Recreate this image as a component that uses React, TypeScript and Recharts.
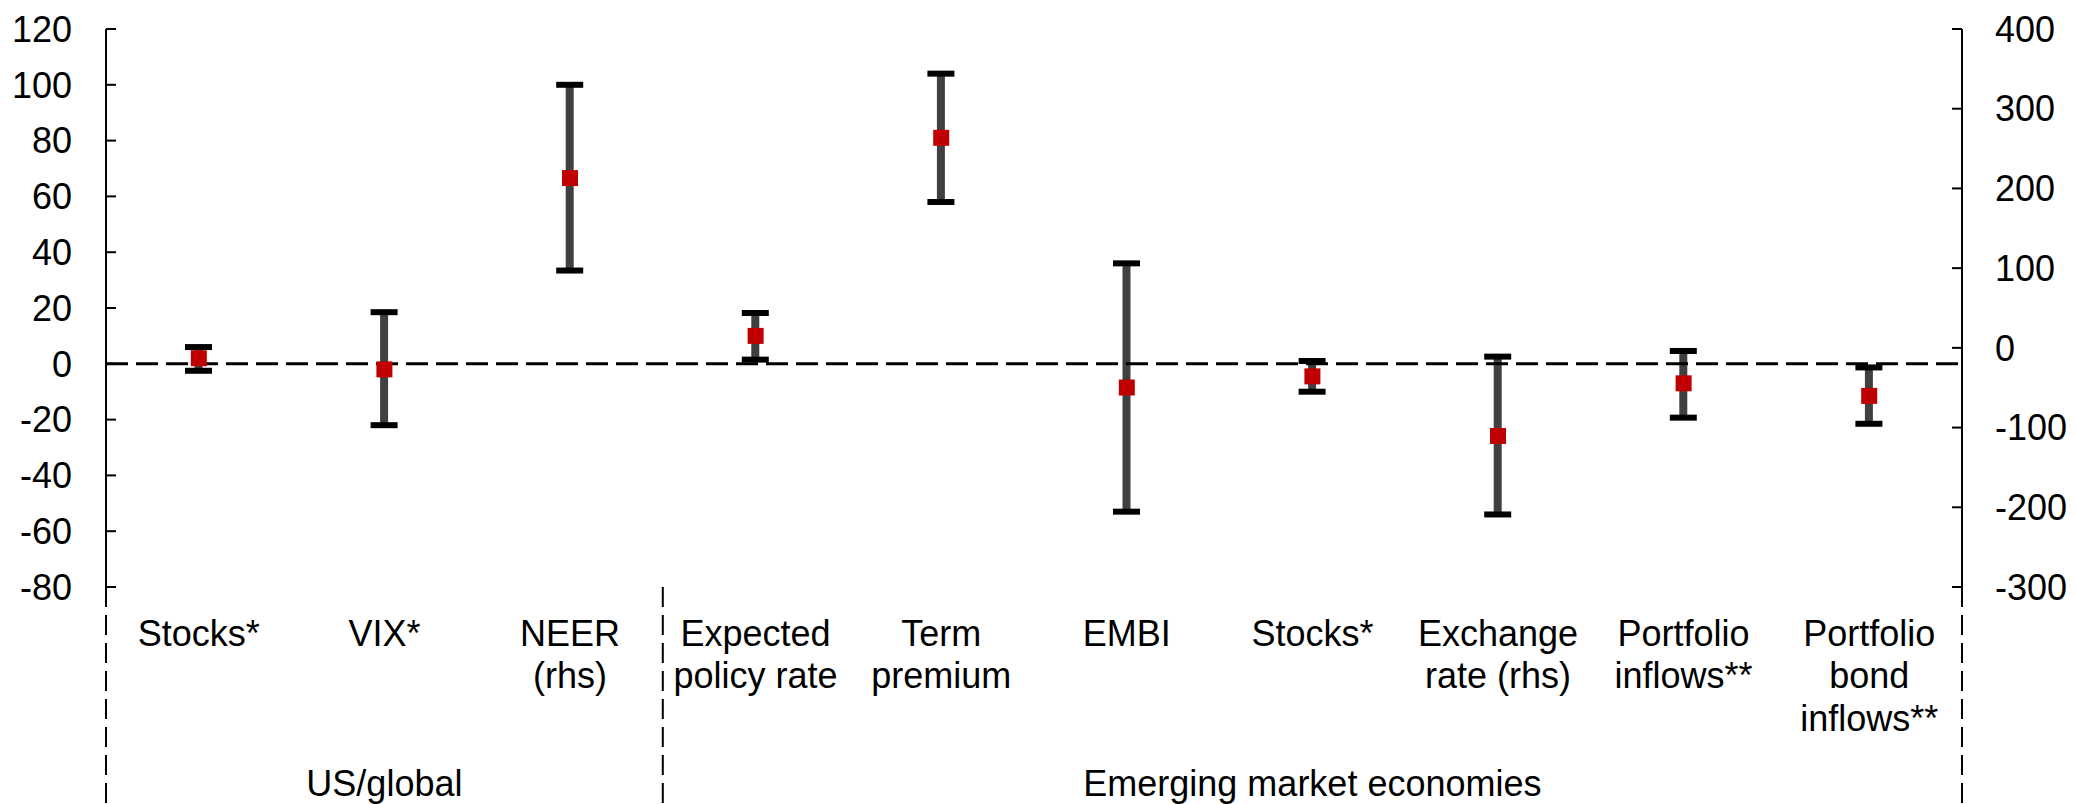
import React from 'react';
import { ComposedChart, XAxis, YAxis, Bar, Line, ReferenceLine } from 'recharts';

// ---- data ----
const categories = [
  'Stocks*',
  'VIX*',
  'NEER\n(rhs)',
  'Expected\npolicy rate',
  'Term\npremium',
  'EMBI',
  'Stocks*',
  'Exchange\nrate (rhs)',
  'Portfolio\ninflows**',
  'Portfolio\nbond\ninflows**',
];
const axisSide = ['l', 'l', 'r', 'l', 'l', 'l', 'l', 'r', 'l', 'l'];
const midValues = [2, -2, 213, 10, 81, -8.5, -4.5, -110.5, -7, -11.5];
const lowValues = [-2.5, -22, 97, 1.5, 58, -53, -10, -209, -19.3, -21.5];
const highValues = [6, 18.5, 330, 18.2, 104, 36, 1, -11, 4.6, -1.3];
const groupLabels = ['US/global', 'Emerging market economies'];
const groupStart = [0, 3];
const groupEnd = [2, 9];
const leftTicks = [-80, -60, -40, -20, 0, 20, 40, 60, 80, 100, 120];
const rightTicks = [-300, -200, -100, 0, 100, 200, 300, 400];

// ---- layout ----
const W = 2059;
const H = 796;
const LEFT_W = 98;
const RIGHT_W = 105;
const TOP = 21;
const XAXIS_H = 217;
const LEFT_MARGIN = 34;
const RIGHT_MARGIN = 33;
const FONT = "'Liberation Sans', Arial, sans-serif";
const FS = 36;
const BAND = (W - LEFT_W - RIGHT_W) / categories.length;

const data = categories.map((c, i) => ({
  name: c,
  midL: axisSide[i] === 'l' ? midValues[i] : null,
  midR: axisSide[i] === 'r' ? midValues[i] : null,
  rangeL: axisSide[i] === 'l' ? [lowValues[i], highValues[i]] : null,
  rangeR: axisSide[i] === 'r' ? [lowValues[i], highValues[i]] : null,
}));

const ErrorShape = (props: any) => {
  const { x, y, width, height, payload, k } = props;
  if (!payload || payload[k] == null) return <g />;
  if (x == null || y == null || !isFinite(height)) return <g />;
  const top = Math.min(y, y + height);
  const bot = Math.max(y, y + height);
  const cx = x + width / 2;
  return (
    <g>
      <line x1={cx} x2={cx} y1={top} y2={bot} stroke="#404040" strokeWidth={8} />
      <line x1={x} x2={x + width} y1={top} y2={top} stroke="#000" strokeWidth={6} />
      <line x1={x} x2={x + width} y1={bot} y2={bot} stroke="#000" strokeWidth={6} />
    </g>
  );
};

const Square = (props: any) => {
  const { cx, cy, value, index } = props;
  if (value == null || cx == null || cy == null || !isFinite(cy)) return <g key={'e' + index} />;
  return <rect key={'s' + index} x={cx - 8} y={cy - 8} width={16} height={16} fill="#C00000" />;
};

const LeftTick = (props: any) => {
  const { x, y, payload } = props;
  const ax = x + LEFT_MARGIN;
  return (
    <g>
      <line x1={ax} x2={ax + 10} y1={y} y2={y} stroke="#000" strokeWidth={2} />
      <text x={x} y={y} dy="0.355em" textAnchor="end" fontSize={FS} fontFamily={FONT} fill="#000">
        {payload.value}
      </text>
    </g>
  );
};

const RightTick = (props: any) => {
  const { x, y, payload } = props;
  const ax = x - RIGHT_MARGIN;
  return (
    <g>
      <line x1={ax} x2={ax - 10} y1={y} y2={y} stroke="#000" strokeWidth={2} />
      <text x={x} y={y} dy="0.355em" textAnchor="start" fontSize={FS} fontFamily={FONT} fill="#000">
        {payload.value}
      </text>
    </g>
  );
};

const XTick = (props: any) => {
  const { x, y, payload } = props;
  const i = payload.index ?? props.index;
  const half = payload.offset > 0 ? payload.offset : BAND / 2;
  const lines = String(payload.value).split('\n');
  const parts: any[] = [];
  lines.forEach((ln, k) => {
    parts.push(
      <text key={'t' + k} x={x} y={y + 59 + k * 42.3} textAnchor="middle" fontSize={FS} fontFamily={FONT} fill="#000">
        {ln}
      </text>
    );
  });
  groupLabels.forEach((g, gi) => {
    const s = groupStart[gi];
    const e = groupEnd[gi];
    if (i === s && gi === 0) {
      parts.push(
        <line key={'ls' + gi} x1={x - half} x2={x - half} y1={y} y2={y + XAXIS_H} stroke="#000" strokeWidth={2} strokeDasharray="20 8" />
      );
    }
    if (i === e) {
      parts.push(
        <line key={'le' + gi} x1={x + half} x2={x + half} y1={y} y2={y + XAXIS_H} stroke="#000" strokeWidth={2} strokeDasharray="20 8" />
      );
    }
    const m = Math.floor((s + e) / 2);
    if (i === m) {
      const gx = x + ((s + e) / 2 - m) * 2 * half;
      parts.push(
        <text key={'g' + gi} x={gx} y={y + 209} textAnchor="middle" fontSize={FS} fontFamily={FONT} fill="#000">
          {g}
        </text>
      );
    }
  });
  return <g>{parts}</g>;
};

export default function App() {
  return (
    <ComposedChart
      width={W}
      height={H}
      data={data}
      margin={{ top: TOP, right: 0, bottom: 0, left: 0 }}
      barGap={-27}
    >
      <XAxis
        dataKey="name"
        height={XAXIS_H}
        axisLine={false}
        tickLine={false}
        tickSize={0}
        tickMargin={0}
        interval={0}
        tick={<XTick />}
      />
      <YAxis
        yAxisId="l"
        orientation="left"
        width={LEFT_W}
        domain={[-80, 120]}
        ticks={leftTicks}
        allowDataOverflow
        axisLine={{ stroke: '#000', strokeWidth: 2 }}
        tickLine={false}
        tickSize={0}
        tickMargin={LEFT_MARGIN}
        tick={<LeftTick />}
        interval={0}
      />
      <YAxis
        yAxisId="r"
        orientation="right"
        width={RIGHT_W}
        domain={[-300, 400]}
        ticks={rightTicks}
        allowDataOverflow
        axisLine={{ stroke: '#000', strokeWidth: 2 }}
        tickLine={false}
        tickSize={0}
        tickMargin={RIGHT_MARGIN}
        tick={<RightTick />}
        interval={0}
      />
      <ReferenceLine yAxisId="l" y={0} stroke="#000" strokeWidth={3} strokeDasharray="22 8" />
      <Bar
        yAxisId="l"
        dataKey="rangeL"
        barSize={27}
        isAnimationActive={false}
        shape={(p: any) => <ErrorShape {...p} k="rangeL" />}
      />
      <Bar
        yAxisId="r"
        dataKey="rangeR"
        barSize={27}
        isAnimationActive={false}
        shape={(p: any) => <ErrorShape {...p} k="rangeR" />}
      />
      <Line
        yAxisId="l"
        dataKey="midL"
        stroke="none"
        isAnimationActive={false}
        dot={(p: any) => <Square {...p} />}
        activeDot={false}
      />
      <Line
        yAxisId="r"
        dataKey="midR"
        stroke="none"
        isAnimationActive={false}
        dot={(p: any) => <Square {...p} />}
        activeDot={false}
      />
    </ComposedChart>
  );
}
